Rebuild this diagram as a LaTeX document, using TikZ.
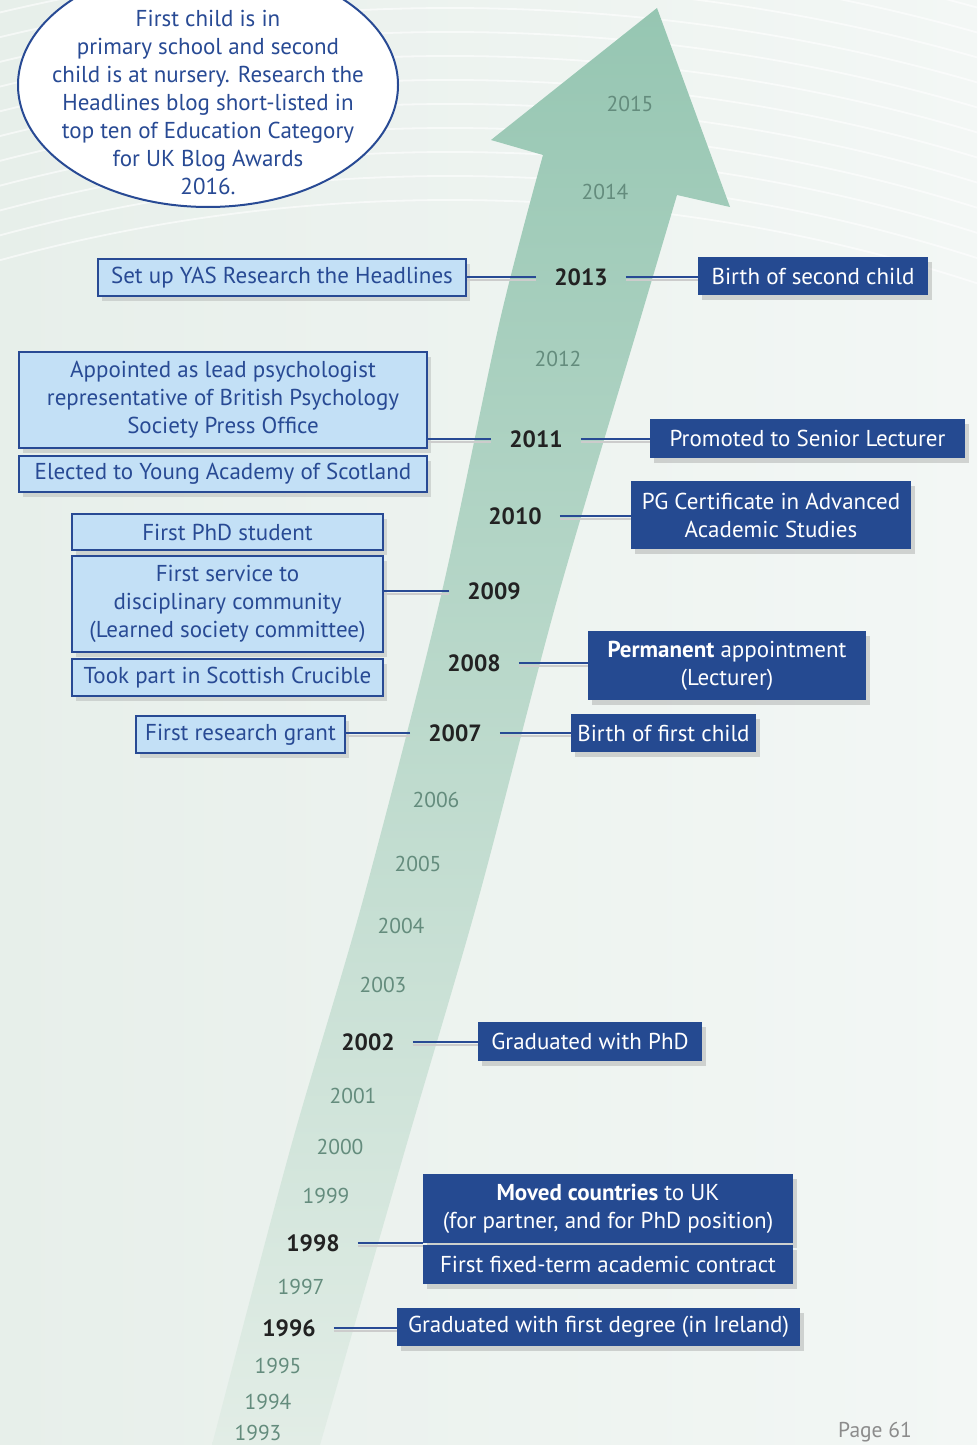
\documentclass[tikz,border=0pt]{standalone}
\usepackage{fontspec}
\setmainfont{PT Sans}
\usepackage{tikz}
\usetikzlibrary{shapes.geometric,shadows}

\definecolor{boxblue}{RGB}{40,74,148}
\definecolor{lightfill}{RGB}{195,224,246}
\definecolor{darkfill}{RGB}{37,74,145}
\definecolor{yeardark}{RGB}{34,34,34}
\definecolor{yeargrey}{RGB}{100,140,125}
\definecolor{arrowtop}{RGB}{150,198,178}
\definecolor{arrowbot}{RGB}{226,237,230}
\definecolor{bgleft}{RGB}{231,239,234}
\definecolor{bgright}{RGB}{243,247,245}
\definecolor{pagegrey}{RGB}{140,140,140}

\newcommand{\tlsize}{\fontsize{23}{28}\selectfont}
\newcommand{\yrsize}{\fontsize{21.5}{26}\selectfont}

\begin{document}
\begin{tikzpicture}[x=1pt, y=-1pt,
    lightbox/.style={draw=boxblue, line width=1.2pt, fill=lightfill, text=boxblue,
        align=center, inner sep=0pt, font=\tlsize,
        drop shadow={shadow xshift=4pt, shadow yshift=-5pt, opacity=0.25}},
    darkbox/.style={fill=darkfill, text=white, align=center, inner sep=0pt, font=\tlsize,
        drop shadow={shadow xshift=4pt, shadow yshift=-5pt, opacity=0.3}},
    yearbold/.style={font=\fontsize{23.5}{28}\selectfont\bfseries, text=yeardark, inner xsep=18pt},
    yearlight/.style={font=\yrsize, text=yeargrey},
    link/.style={draw=boxblue, line width=1.2pt,
        preaction={draw=black!20, line width=2.5pt, transform canvas={yshift=-3pt}}}]

    \useasboundingbox (0,0) rectangle (977,1445);
    \shade[left color=bgleft, right color=bgright] (0,0) rectangle (977,1445);

    % background rings
    \begin{scope}
        \clip (0,0) rectangle (977,1445);
        \foreach \r in {1700,1724,...,2150}
            \draw[white, opacity=0.6, line width=1.8pt] (450,1900) circle[radius=\r];
    \end{scope}

    % the big arrow
    \shade[top color=arrowtop, bottom color=arrowbot]
        (657,8) -- (730,207) -- (677,195)
        -- plot[smooth] coordinates {(677,195) (640,320) (557,600) (478,900) (405,1150) (320,1445)}
        -- (212,1445)
        -- plot[smooth] coordinates {(212,1445) (290,1150) (363,900) (440,600) (500,320) (543,155)}
        -- (491,140) -- cycle;

    % speech bubble
    \node[ellipse, draw=boxblue, line width=2pt, fill=white,
        minimum width=380, minimum height=244] (bubble) at (208,85) {};
    \node[align=center, font=\tlsize, text=boxblue] (bubbletext) at (208,102)
        {First child is in\\primary school and second\\child is at nursery. Research the\\
         Headlines blog short-listed in\\top ten of Education Category\\for UK Blog Awards\\2016.};

    % years
    \node[yearlight] (y2015) at (630,104) {2015};
    \node[yearlight] (y2014) at (605,192) {2014};
    \node[yearbold]  (y2013) at (581,277) {2013};
    \node[yearlight] (y2012) at (558,359) {2012};
    \node[yearbold]  (y2011) at (536,439) {2011};
    \node[yearbold]  (y2010) at (515,516) {2010};
    \node[yearbold]  (y2009) at (494,591) {2009};
    \node[yearbold]  (y2008) at (474,663) {2008};
    \node[yearbold]  (y2007) at (455,733) {2007};
    \node[yearlight] (y2006) at (436,800) {2006};
    \node[yearlight] (y2005) at (418,864) {2005};
    \node[yearlight] (y2004) at (401,926) {2004};
    \node[yearlight] (y2003) at (383,985) {2003};
    \node[yearbold]  (y2002) at (368,1042) {2002};
    \node[yearlight] (y2001) at (353,1096) {2001};
    \node[yearlight] (y2000) at (340,1147) {2000};
    \node[yearlight] (y1999) at (326,1196) {1999};
    \node[yearbold]  (y1998) at (313,1243) {1998};
    \node[yearlight] (y1997) at (301,1287) {1997};
    \node[yearbold]  (y1996) at (289,1328) {1996};
    \node[yearlight] (y1995) at (278,1366) {1995};
    \node[yearlight] (y1994) at (268,1402) {1994};
    \node[yearlight] (y1993) at (258,1433) {1993};

    % left side (light boxes)
    \node[lightbox, minimum width=368, minimum height=37] (setup) at (282,277.5)
        {Set up YAS Research the Headlines};
    \node[lightbox, minimum width=408, minimum height=96] (appointed) at (223,400)
        {Appointed as lead psychologist\\representative of British Psychology\\Society Press Office};
    \node[lightbox, minimum width=408, minimum height=36] (elected) at (223,474)
        {Elected to Young Academy of Scotland};
    \node[lightbox, minimum width=311, minimum height=36] (phdstudent) at (227.5,532)
        {First PhD student};
    \node[lightbox, minimum width=311, minimum height=96] (service) at (227.5,604)
        {First service to\\disciplinary community\\(Learned society committee)};
    \node[lightbox, minimum width=311, minimum height=37] (crucible) at (227.5,677.5)
        {Took part in Scottish Crucible};
    \node[lightbox, minimum width=209, minimum height=37] (grant) at (240.5,734.5)
        {First research grant};

    % right side (dark boxes)
    \node[darkbox, minimum width=230, minimum height=38] (secondchild) at (813,276)
        {Birth of second child};
    \node[darkbox, minimum width=315, minimum height=39] (senior) at (807.5,438.5)
        {Promoted to Senior Lecturer};
    \node[darkbox, minimum width=280, minimum height=68] (pgcert) at (771,515)
        {PG Certificate in Advanced\\Academic Studies};
    \node[darkbox, minimum width=278, minimum height=69] (permanent) at (727,665.5)
        {\textbf{Permanent} appointment\\(Lecturer)};
    \node[darkbox, minimum width=185, minimum height=38] (firstchild) at (663.5,733)
        {Birth of first child};
    \node[darkbox, minimum width=224, minimum height=39] (gradphd) at (590,1041.5)
        {Graduated with PhD};
    \node[darkbox, minimum width=370, minimum height=69] (moved) at (608,1208.5)
        {\textbf{Moved countries} to UK\\(for partner, and for PhD position)};
    \node[darkbox, minimum width=370, minimum height=39] (fixedterm) at (608,1264.5)
        {First fixed-term academic contract};
    \node[darkbox, minimum width=403, minimum height=38] (firstdegree) at (598.5,1327)
        {Graduated with first degree (in Ireland)};

    % connectors
    \draw[link] (y2013.west) -- (y2013.west -| setup.east);
    \draw[link] (y2013.east) -- (y2013.east -| secondchild.west);
    \draw[link] (y2011.west) -- (y2011.west -| appointed.east);
    \draw[link] (y2011.east) -- (y2011.east -| senior.west);
    \draw[link] (y2010.east) -- (y2010.east -| pgcert.west);
    \draw[link] (y2009.west) -- (y2009.west -| service.east);
    \draw[link] (y2008.east) -- (y2008.east -| permanent.west);
    \draw[link] (y2007.west) -- (y2007.west -| grant.east);
    \draw[link] (y2007.east) -- (y2007.east -| firstchild.west);
    \draw[link] (y2002.east) -- (y2002.east -| gradphd.west);
    \draw[link] (y1998.east) -- (y1998.east -| moved.west);
    \draw[link] (y1996.east) -- (y1996.east -| firstdegree.west);

    \node[font=\yrsize, text=pagegrey] (page) at (875,1432) {Page 61};
\end{tikzpicture}
\end{document}
